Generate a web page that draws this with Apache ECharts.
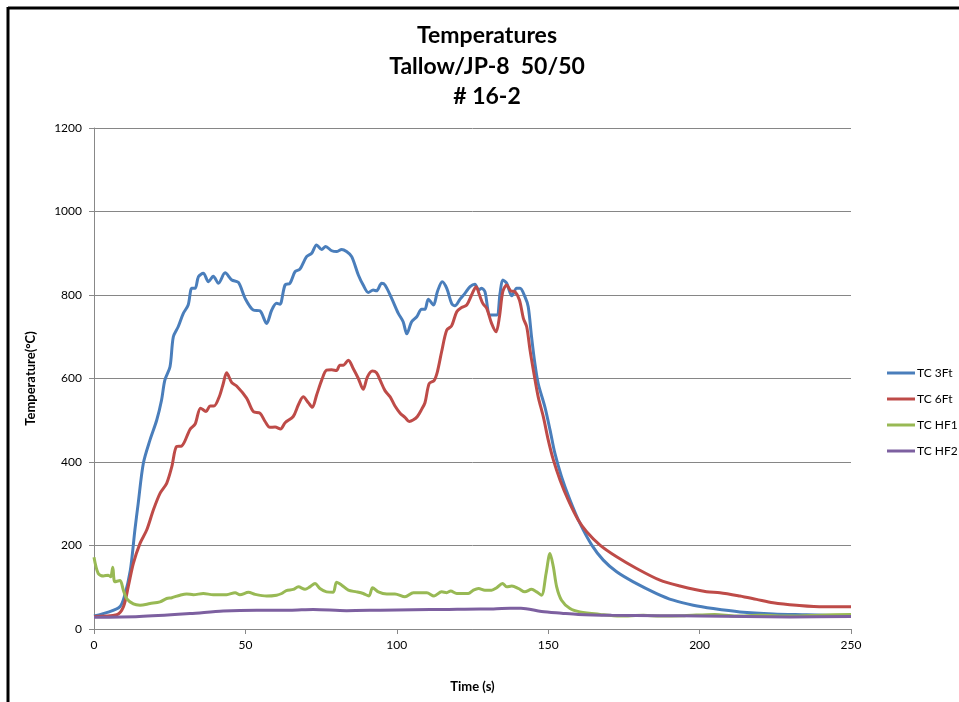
<!DOCTYPE html>
<html>
<head>
<meta charset="utf-8">
<script src="https://cdn.jsdelivr.net/npm/echarts@6/dist/echarts.min.js"></script>
<style>
html,body{margin:0;padding:0;background:#fff;}
#chart{width:959px;height:702px;}
</style>
</head>
<body>
<div id="chart"></div>
<script>
const seriesNames = ['TC 3Ft', 'TC 6Ft', 'TC HF1', 'TC HF2'];
const titleLines = ['Temperatures', 'Tallow/JP-8  50/50', '# 16-2'];
const xTicks = [0, 50, 100, 150, 200, 250];
const yTicks = [0, 200, 400, 600, 800, 1000, 1200];

const tc3ft = [[0,31],[5,41],[8.5,53],[10,77],[12,141],[13.5,237],[14.6,301],[16.3,397],[18.5,453],[20.7,500],[22.3,548],[23.4,596],[25.1,628],[26.2,700],[27.8,724],[29.5,756],[31.1,776],[32.3,816],[33.4,816],[34.5,844],[36.1,852],[37.8,832],[39.4,845],[41.1,828],[43.3,853],[45.5,836],[47.7,830],[49.9,792],[52.6,764],[54.8,762],[57,732],[58.7,764],[60.3,780],[61.4,778],[63.1,824],[64.7,828],[66.4,856],[68,862],[70.2,892],[71.9,900],[73.5,920],[75.2,909],[76.5,916],[78.5,906],[80.1,904],[81.8,909],[83.4,904],[85.1,892],[87.3,848],[88.9,824],[90.6,806],[92.2,812],[93.3,810],[95,828],[96.1,824],[98.3,792],[100.5,756],[102.1,736],[103.3,707],[104.9,736],[106.6,748],[108.2,766],[109.3,766],[110.4,790],[112.1,776],[113.4,808],[115,832],[116.5,816],[118.1,780],[119.2,774],[120.9,790],[122.5,804],[124.2,820],[125.8,826],[127,812],[128,816],[129.1,808],[130.8,752],[133,752],[134.1,804],[135,836],[136.3,828],[138,798],[139.6,816],[140.7,816],[142.3,796],[143.4,772],[144.5,700],[145.6,636],[146.7,588],[148.9,532],[150.6,477],[152.2,421],[154.4,365],[157.2,309],[160.5,253],[164.4,201],[168.2,165],[172.6,137],[178.1,113],[185.8,85],[191.3,69],[197.9,57],[204.5,49],[213.3,41],[224.4,36],[235.4,34],[250,31]];

const tc6ft = [[0,30],[7.5,34],[9.7,53],[11.3,101],[13,157],[15.2,205],[17.4,237],[19.6,285],[21.8,325],[24,349],[25.7,389],[27.3,437],[28.9,438],[31.7,478],[33.4,491],[35.2,529],[37,521],[38.3,534],[39.6,534],[41.4,557],[42.7,588],[43.8,614],[45.5,590],[47.1,582],[50.4,553],[52.6,521],[54.8,517],[56.5,497],[58.1,483],[59.8,484],[61.6,479],[63.1,494],[65.8,509],[67.5,537],[69.1,556],[70.8,542],[72.1,531],[73.5,560],[75.2,596],[76.8,620],[78.5,621],[80.1,619],[81.2,632],[82.3,632],[84,644],[85.6,624],[87.3,600],[88.9,574],[90.3,604],[91.9,618],[93.3,614],[94.5,596],[96.1,571],[97.8,556],[99.4,534],[101.1,517],[102.7,507],[104.1,497],[105.5,501],[106.8,509],[108.2,526],[109.3,542],[110.7,588],[112.3,595],[113.4,616],[114.8,664],[116.5,716],[118.1,726],[119.8,760],[121.4,770],[123.1,776],[124.7,800],[126.2,820],[127.3,800],[128.4,780],[129.7,768],[131.3,732],[132.8,712],[133.9,748],[135,808],[136.3,824],[137.6,810],[139,808],[140.5,788],[141.8,744],[142.9,724],[144,668],[145.1,620],[146.7,556],[148.4,508],[150,453],[151.7,405],[153.9,357],[156.6,309],[159.9,261],[162.7,233],[167.1,201],[172.6,173],[179.2,145],[186.9,117],[193.5,103],[202.3,89],[206.7,87],[213.3,79],[218.8,71],[224.3,63],[232,57],[240.9,53],[250,53]];

const tcHF1 = [[0,172],[1.4,133],[3.1,127],[4.7,129],[5.5,125],[6.2,148],[6.9,113],[8.6,116],[9.7,93],[10.8,73],[13,60],[15.2,57],[18.5,61],[21.8,65],[24,73],[25.7,75],[28.4,81],[30.6,84],[32.8,82],[36.1,85],[39.4,82],[43.8,82],[46.6,87],[48.2,82],[51,88],[53.2,83],[57,79],[60.3,81],[62,85],[63.5,92],[65.8,95],[67.5,101],[69.7,95],[71.3,101],[73,109],[74.6,97],[76.8,89],[79,88],[80.1,112],[81.8,105],[84,93],[86.7,89],[88.9,85],[90.8,79],[92,99],[93.9,89],[96.7,84],[99.4,84],[102.7,77],[105.5,87],[109.9,87],[112.3,79],[114.8,89],[116.5,87],[117.8,91],[119.8,85],[123.6,85],[125.3,93],[127,97],[129.1,93],[131.3,93],[133,99],[134.9,109],[136.3,101],[138,103],[140.2,97],[142.3,89],[144.5,95],[146.2,89],[147.8,81],[149.3,133],[150.6,181],[151.7,149],[152.8,101],[154.4,69],[157.2,49],[160.5,41],[167.1,35],[173.7,31],[181.4,33],[186.9,31],[195,32],[205,35],[212,31],[220,33],[230,31],[240,33],[250,35]];

const tcHF2 = [[0,28],[15,30],[31.7,37],[42.7,43],[53.7,45],[64.7,45],[72.4,47],[83.4,44],[94.5,45],[105.5,46],[116.5,47],[127.5,48],[131.9,48],[137.4,50],[141,50],[147.8,42],[154.4,38],[159.9,35],[170.9,33],[186.9,32],[200,31],[215,30],[230,29],[250,30]];

const colors = ['#4a7ebb', '#be4b48', '#98b954', '#7d60a0'];
const seriesData = [tc3ft, tc6ft, tcHF1, tcHF2];

const chart = echarts.init(document.getElementById('chart'), null, {renderer: 'canvas'});
const FONT = 'Lato, "Open Sans", sans-serif';

chart.setOption({
  animation: false,
  color: colors,
  graphic: [
    {type: 'line', shape: {x1: 8, y1: 8, x2: 959, y2: 8}, style: {stroke: '#000', lineWidth: 3}},
    {type: 'line', shape: {x1: 8, y1: 7, x2: 8, y2: 702}, style: {stroke: '#000', lineWidth: 3}},
    ...titleLines.map((t, i) => ({
      type: 'text', x: 487, y: 36 + i * 30.5,
      style: {text: t, fill: '#000', font: 'bold 23px ' + FONT, textAlign: 'center', textVerticalAlign: 'middle'}
    }))
  ],
  legend: {
    orient: 'vertical',
    left: 882,
    top: 362,
    itemWidth: 28,
    itemHeight: 3,
    itemGap: 14,
    icon: 'rect',
    textStyle: {fontFamily: FONT, fontSize: 12, color: '#000', padding: [0, 0, 0, -3]},
    data: seriesNames
  },
  grid: {left: 94, right: 108, top: 128, bottom: 73, containLabel: false},
  xAxis: {
    type: 'value', min: 0, max: 250, interval: 50,
    name: 'Time (s)', nameLocation: 'middle', nameGap: 51,
    nameTextStyle: {fontFamily: FONT, fontSize: 13, fontWeight: 'bold', color: '#000'},
    axisLine: {lineStyle: {color: '#888', width: 1}},
    axisTick: {show: true, length: 5, lineStyle: {color: '#888'}},
    axisLabel: {fontFamily: FONT, fontSize: 12, color: '#000', margin: 10,
      formatter: v => xTicks.includes(v) ? String(v) : ''},
    splitLine: {show: false}
  },
  yAxis: {
    type: 'value', min: 0, max: 1200, interval: 200,
    name: 'Temperature(°C)', nameLocation: 'middle', nameGap: 57, nameRotate: 90,
    nameTextStyle: {fontFamily: FONT, fontSize: 13, fontWeight: 'bold', color: '#000'},
    axisLine: {show: true, lineStyle: {color: '#888', width: 1}},
    axisTick: {show: true, length: 5, lineStyle: {color: '#888'}},
    axisLabel: {fontFamily: FONT, fontSize: 12, color: '#000', margin: 12,
      formatter: v => yTicks.includes(v) ? String(v) : ''},
    splitLine: {show: true, lineStyle: {color: '#868686', width: 1}}
  },
  series: seriesNames.map((n, i) => ({
    name: n, type: 'line', data: seriesData[i], showSymbol: false, symbol: 'none',
    smooth: 0.3, lineStyle: {width: 3, color: colors[i]}, itemStyle: {color: colors[i]}
  }))
});
</script>
</body>
</html>
